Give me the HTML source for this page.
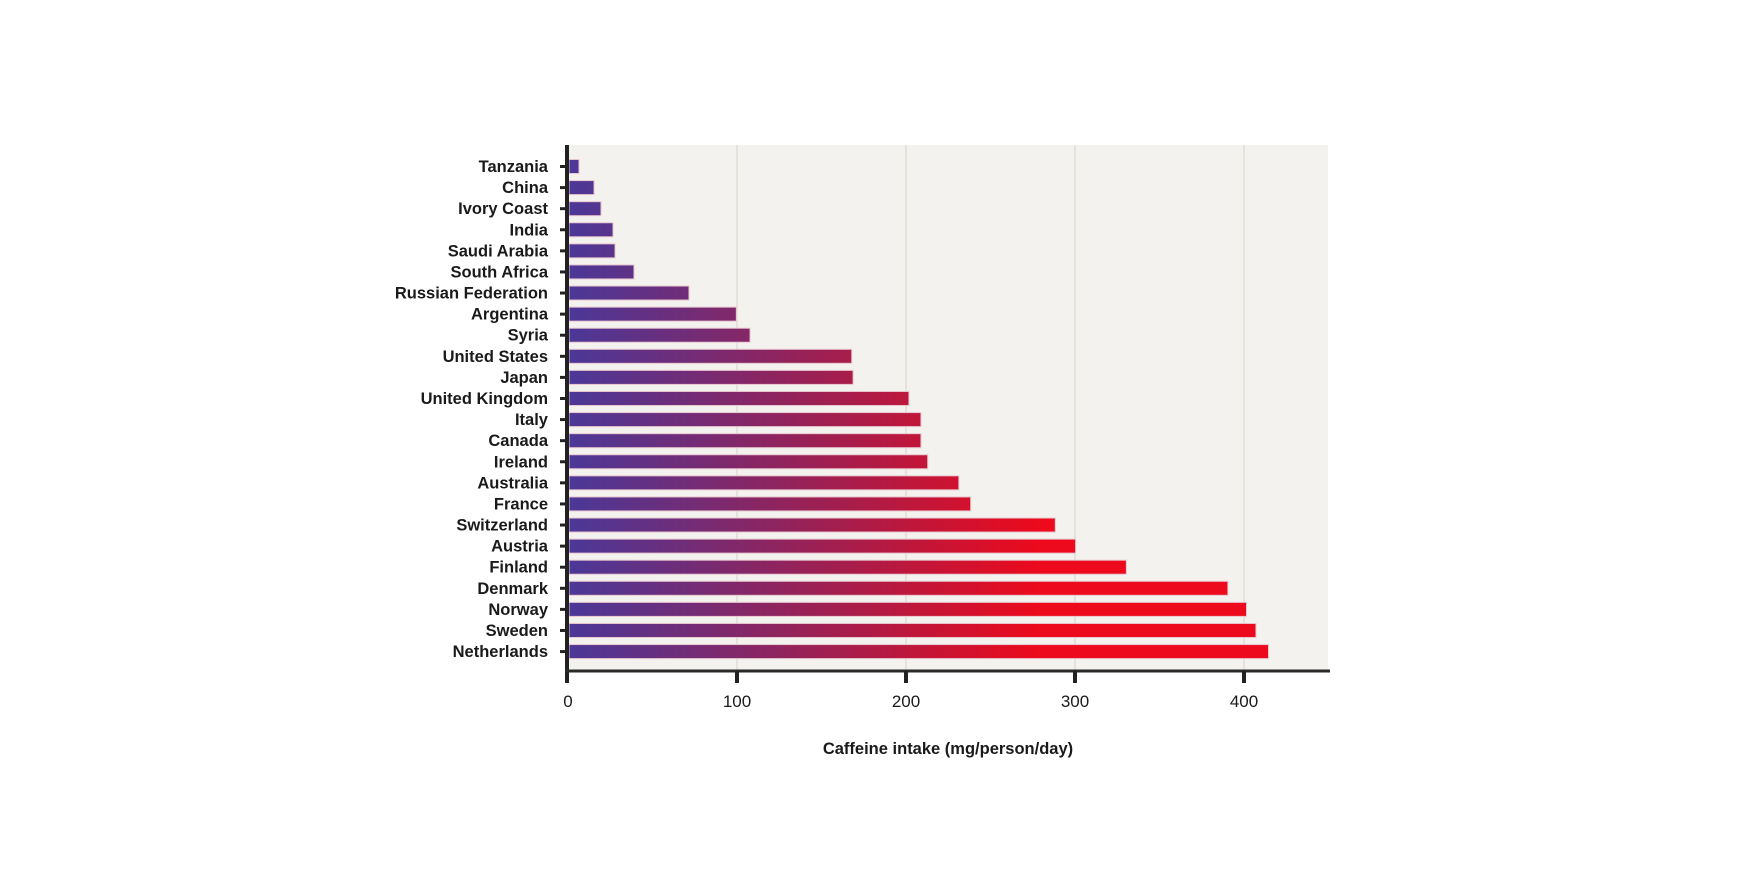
<!DOCTYPE html>
<html><head><meta charset="utf-8"><style>
html,body{margin:0;padding:0;background:#fff}
svg{display:block}
text{font-family:"Liberation Sans",sans-serif;fill:#1a1a1a}
</style></head><body>
<svg width="1750" height="875" viewBox="0 0 1750 875" xmlns="http://www.w3.org/2000/svg">
<defs>
<linearGradient id="g" gradientUnits="userSpaceOnUse" x1="568" y1="0" x2="1090" y2="0">
<stop offset="0" stop-color="#4a3898"/>
<stop offset="0.5" stop-color="#a01f50"/>
<stop offset="0.9" stop-color="#ec0a1c"/>
<stop offset="1" stop-color="#ec0a1c"/>
</linearGradient>
</defs>
<rect x="568" y="145" width="760" height="526" fill="#f3f2ee"/>
<g stroke="#e2ddd2" stroke-width="1.5">
<line x1="737" y1="145" x2="737" y2="671"/>
<line x1="906" y1="145" x2="906" y2="671"/>
<line x1="1075" y1="145" x2="1075" y2="671"/>
<line x1="1244" y1="145" x2="1244" y2="671"/>
</g>
<g id="bars" fill="url(#g)" stroke="#e8c6cf" stroke-width="1"></g>
<g id="labels" font-size="16.5" font-weight="bold" text-anchor="end"></g>
<g id="ticks" stroke="#222" stroke-width="3"></g>
<line x1="567" y1="145" x2="567" y2="683" stroke="#222" stroke-width="4"/>
<line x1="565" y1="671" x2="1330" y2="671" stroke="#2a2a2a" stroke-width="3"/>
<g stroke="#222" stroke-width="4">
<line x1="737" y1="671" x2="737" y2="683"/>
<line x1="906" y1="671" x2="906" y2="683"/>
<line x1="1075" y1="671" x2="1075" y2="683"/>
<line x1="1244" y1="671" x2="1244" y2="683"/>
</g>
<g font-size="17" text-anchor="middle">
<text x="568" y="707">0</text>
<text x="737" y="707">100</text>
<text x="906" y="707">200</text>
<text x="1075" y="707">300</text>
<text x="1244" y="707">400</text>
</g>
<text x="948" y="754" font-size="16.5" font-weight="bold" text-anchor="middle">Caffeine intake (mg/person/day)</text>
<script>
var d=[["Tanzania",6.5],["China",15.4],["Ivory Coast",19.5],["India",26.6],["Saudi Arabia",27.8],["South Africa",39],["Russian Federation",71.5],["Argentina",99.5],["Syria",107.6],["United States",167.7],["Japan",168.5],["United Kingdom",201.5],["Italy",208.6],["Canada",208.6],["Ireland",212.6],["Australia",231],["France",238],["Switzerland",288],["Austria",300],["Finland",330],["Denmark",390],["Norway",401],["Sweden",406.6],["Netherlands",414]];
var ns="http://www.w3.org/2000/svg",b=document.getElementById("bars"),l=document.getElementById("labels"),t=document.getElementById("ticks");
d.forEach(function(r,i){var y=166.5+i*21.09;
var e=document.createElementNS(ns,"rect");e.setAttribute("x",569);e.setAttribute("y",y-7);e.setAttribute("width",r[1]*1.692-1);e.setAttribute("height",14);b.appendChild(e);
var s=document.createElementNS(ns,"text");s.setAttribute("x",548);s.setAttribute("y",y+5.5);s.textContent=r[0];l.appendChild(s);
var k=document.createElementNS(ns,"line");k.setAttribute("x1",560);k.setAttribute("x2",567);k.setAttribute("y1",y);k.setAttribute("y2",y);t.appendChild(k);});
</script>
</svg>
</body></html>
